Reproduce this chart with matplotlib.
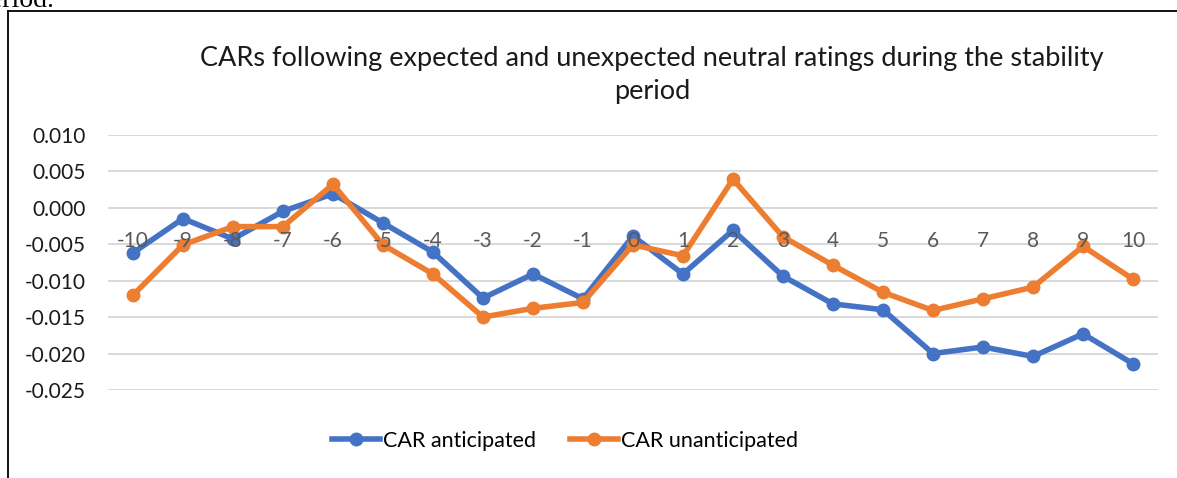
import matplotlib.pyplot as plt
from matplotlib.lines import Line2D

# ── Data ─────────────────────────────────────────────────────────────────
days = [-10, -9, -8, -7, -6, -5, -4, -3, -2, -1, 0, 1, 2, 3, 4, 5, 6, 7, 8, 9, 10]
car_anticipated = [-0.0062, -0.0015, -0.0043, -0.0005, 0.0019, -0.0021, -0.0061,
                   -0.0124, -0.0091, -0.0125, -0.0039, -0.0091, -0.0031, -0.0094,
                   -0.0132, -0.0140, -0.0200, -0.0191, -0.0204, -0.0173, -0.0214]
car_unanticipated = [-0.0120, -0.0051, -0.0026, -0.0026, 0.0032, -0.0051, -0.0091,
                     -0.0150, -0.0138, -0.0130, -0.0051, -0.0066, 0.0039, -0.0040,
                     -0.0079, -0.0116, -0.0141, -0.0125, -0.0109, -0.0053, -0.0098]
y_ticks = [0.010, 0.005, 0.000, -0.005, -0.010, -0.015, -0.020, -0.025]

BLUE = "#4472C4"
ORANGE = "#ED7D31"
FONT = "Lato"

W, H = 1177, 478
fig = plt.figure(figsize=(W / 100, H / 100), dpi=100)
fig.patch.set_facecolor("white")

# plot area in pixel terms: x 108..1158, y 134.7..390
ax = fig.add_axes([108 / W, 1 - 390 / H, 1050 / W, (390 - 134.7) / H])
ax.set_facecolor("white")

# gridlines drawn by hand so the category labels can sit on top of the lines
for v in y_ticks:
    ax.axhline(v, color="#D9D9D9", linewidth=1.4, zorder=0)

idx = list(range(len(days)))
ax.plot(idx, car_anticipated, color=BLUE, linewidth=4.0, marker="o",
        markersize=9, zorder=1, label="CAR anticipated", solid_joinstyle="round")
ax.plot(idx, car_unanticipated, color=ORANGE, linewidth=4.0, marker="o",
        markersize=9, zorder=1.5, label="CAR unanticipated", solid_joinstyle="round")

ax.set_xlim(-0.5, len(days) - 0.5)
ax.set_ylim(-0.025, 0.010)

ax.set_yticks(y_ticks)
ax.set_yticklabels([f"{v:.3f}" for v in y_ticks], fontsize=15, family=FONT,
                   color="#1a1a1a")
ax.tick_params(axis="y", length=0, pad=16)

# category labels sit under the zero line
ax.spines["bottom"].set_position(("data", 0))
ax.set_xticks(idx)
ax.set_xticklabels([str(d) for d in days], fontsize=15, family=FONT, color="#595959")
ax.tick_params(axis="x", length=0, pad=17)

for s in ["top", "right", "left", "bottom"]:
    ax.spines[s].set_visible(False)
ax.set_axisbelow(False)

# ── Title ─────────────────────────────────────────────────────────────────
fig.text(652 / W, 1 - 75 / H,
         "CARs following expected and unexpected neutral ratings during the stability\nperiod",
         ha="center", va="center", fontsize=19.5, family=FONT, color="#1a1a1a",
         linespacing=1.4)

# ── Legend ────────────────────────────────────────────────────────────────
fig.legend(loc="center", bbox_to_anchor=(565 / W, 1 - 441 / H), ncol=2,
           frameon=False, prop={"family": FONT, "size": 15.5},
           handlelength=2.2, handletextpad=0.15, columnspacing=1.6)

# ── Document frame and cut-off text above ─────────────────────────────────
fig.add_artist(Line2D([7.5 / W, 7.5 / W], [1 - 10.5 / H, 0], color="black",
                      linewidth=1.3, transform=fig.transFigure))
fig.add_artist(Line2D([7.5 / W, 1], [1 - 10.5 / H, 1 - 10.5 / H], color="black",
                      linewidth=1.3, transform=fig.transFigure))
fig.text(55 / W, 1 - 7 / H, "period.", ha="right", va="baseline",
         fontsize=20, family="Liberation Serif", color="black")

fig.savefig("out.png", dpi=100)
